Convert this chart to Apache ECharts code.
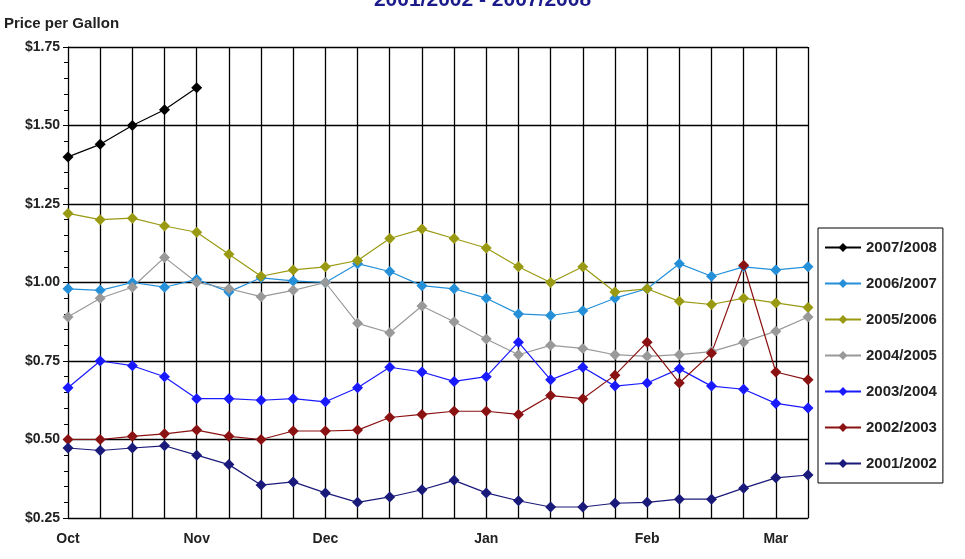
<!DOCTYPE html>
<html>
<head>
<meta charset="UTF-8">
<title>Price per Gallon</title>
<script src="https://cdn.jsdelivr.net/npm/echarts@6/dist/echarts.min.js"></script>
<style>
  body { margin: 0; padding: 0; background: #fff; }
  #main { width: 965px; height: 559px; }
</style>
</head>
<body>
<div id="main"></div>
<script type="text/javascript">
// weekly points, Oct - Mar
var monthLabels = ['Oct','','','','Nov','','','','Dec','','','','','Jan','','','','','Feb','','','','Mar',''];
var seasons = ['2007/2008','2006/2007','2005/2006','2004/2005','2003/2004','2002/2003','2001/2002'];
var colors = ['#000000','#2590d8','#9a9a12','#999999','#1a1aff','#8b1212','#1a1a7a'];

var s2007 = [1.40,1.44,1.50,1.55,1.62];
var s2006 = [0.98,0.975,1.00,0.985,1.01,0.97,1.015,1.005,1.00,1.06,1.035,0.99,0.98,0.95,0.90,0.895,0.91,0.95,0.98,1.06,1.02,1.05,1.04,1.05];
var s2005 = [1.22,1.20,1.205,1.18,1.16,1.09,1.02,1.04,1.05,1.07,1.14,1.17,1.14,1.11,1.05,1.00,1.05,0.97,0.98,0.94,0.93,0.95,0.935,0.92];
var s2004 = [0.89,0.95,0.985,1.08,1.00,0.98,0.955,0.975,1.00,0.87,0.84,0.925,0.875,0.82,0.77,0.80,0.79,0.77,0.765,0.77,0.78,0.81,0.845,0.89];
var s2003 = [0.665,0.75,0.735,0.70,0.63,0.63,0.625,0.63,0.62,0.665,0.73,0.715,0.685,0.70,0.81,0.69,0.73,0.67,0.68,0.725,0.67,0.66,0.615,0.60];
var s2002 = [0.50,0.50,0.51,0.518,0.53,0.51,0.50,0.527,0.527,0.53,0.57,0.58,0.59,0.59,0.58,0.64,0.63,0.705,0.81,0.68,0.775,1.055,0.715,0.69];
var s2001 = [0.473,0.465,0.473,0.48,0.45,0.42,0.355,0.365,0.33,0.30,0.317,0.34,0.37,0.33,0.305,0.285,0.285,0.297,0.30,0.31,0.31,0.345,0.378,0.387];
var allData = [s2007,s2006,s2005,s2004,s2003,s2002,s2001];

var myChart = echarts.init(document.getElementById('main'));
var series = [];
for (var i = 0; i < seasons.length; i++) {
    series.push({
        name: seasons[i],
        type: 'line',
        data: allData[i],
        symbol: 'diamond',
        symbolSize: 11,
        color: colors[i],
        lineStyle: { width: 1.2, color: colors[i] },
        itemStyle: { color: colors[i] }
    });
}
var fnt = 'Liberation Sans, Arial, sans-serif';
option = {
    animation: false,
    backgroundColor: '#fff',
    title: {
        text: '2001/2002 - 2007/2008',
        left: 'center', top: -15,
        textStyle: { color: '#1a1a8a', fontSize: 21, fontWeight: 'bold', fontFamily: fnt }
    },
    grid: { left: 68, right: 157, top: 47, bottom: 41 },
    legend: {
        data: seasons,
        orient: 'vertical',
        left: 818, top: 228,
        width: 148,
        itemGap: 21,
        itemWidth: 36, itemHeight: 11,
        padding: [12, 6, 12, 6],
        borderColor: '#000', borderWidth: 1,
        textStyle: { fontSize: 15, fontWeight: 'bold', color: '#222', fontFamily: fnt }
    },
    xAxis: {
        type: 'category',
        data: monthLabels,
        boundaryGap: false,
        axisLine: { lineStyle: { color: '#000' } },
        axisTick: { show: false },
        axisLabel: { interval: 0, color: '#222', fontWeight: 'bold', fontSize: 14, fontFamily: fnt, margin: 14 },
        splitLine: { show: true, interval: 0, lineStyle: { color: '#000', width: 1.3 } }
    },
    yAxis: {
        type: 'value',
        name: 'Price per Gallon',
        nameLocation: 'end',
        nameGap: 16,
        nameTextStyle: { align: 'left', padding: [0, 0, 0, -64], color: '#222', fontWeight: 'bold', fontSize: 15, fontFamily: fnt },
        min: 0.25, max: 1.75, interval: 0.25,
        axisLine: { show: true, lineStyle: { color: '#000' } },
        axisTick: { show: true, length: 5 },
        minorTick: { show: true, splitNumber: 5, length: 4, lineStyle: { color: '#000' } },
        axisLabel: { color: '#222', fontWeight: 'bold', fontSize: 14, fontFamily: fnt,
            formatter: function (v) { return '$' + v.toFixed(2); } },
        splitLine: { show: true, lineStyle: { color: '#000', width: 1.3 } }
    },
    series: series
};
myChart.setOption(option);
</script>
</body>
</html>
